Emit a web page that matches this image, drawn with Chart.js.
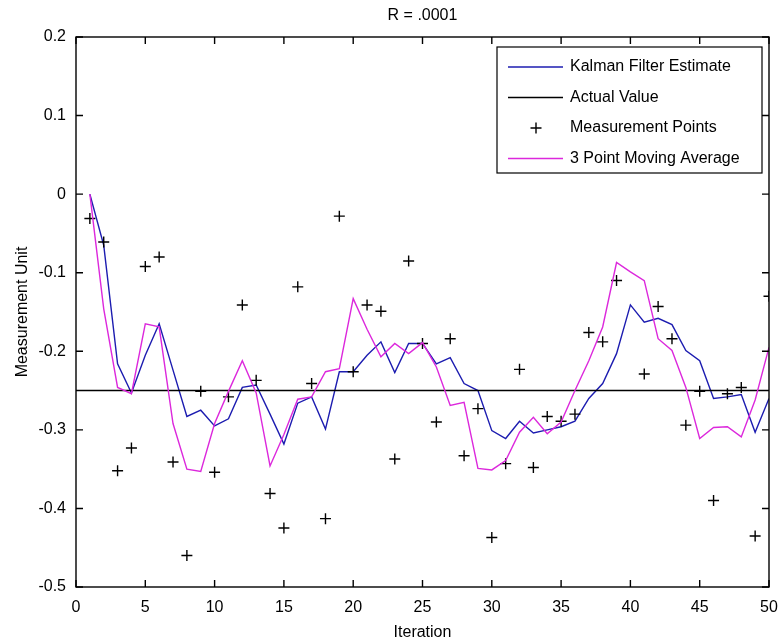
<!DOCTYPE html>
<html>
<head>
<meta charset="utf-8">
<title>R = .0001</title>
<script src="https://cdn.jsdelivr.net/npm/chart.js@4.4.0/dist/chart.umd.min.js"></script>
<style>
  html, body { margin: 0; padding: 0; background: #fff; }
  #wrap { width: 778px; height: 643px; }
</style>
</head>
<body>
<div id="wrap"><canvas id="kalmanChart"></canvas></div>
<script>
// Data
const iterations = [1, 2, 3, 4, 5, 6, 7, 8, 9, 10,
    11, 12, 13, 14, 15, 16, 17, 18, 19, 20,
    21, 22, 23, 24, 25, 26, 27, 28, 29, 30,
    31, 32, 33, 34, 35, 36, 37, 38, 39, 40,
    41, 42, 43, 44, 45, 46, 47, 48, 49, 50];

const measurements = [-0.031, -0.061, -0.352, -0.323, -0.092, -0.080, -0.341, -0.460, -0.251, -0.354,
    -0.258, -0.141, -0.237, -0.381, -0.425, -0.118, -0.241, -0.413, -0.028, -0.226,
    -0.141, -0.149, -0.337, -0.085, -0.190, -0.290, -0.184, -0.333, -0.273, -0.437,
    -0.343, -0.223, -0.348, -0.283, -0.289, -0.280, -0.176, -0.188, -0.110, 0.037,
    -0.229, -0.143, -0.184, -0.294, -0.251, -0.390, -0.254, -0.246, -0.435, -0.130];

const kalmanEstimate = [0, -0.065, -0.216, -0.253, -0.205, -0.165, -0.224, -0.283, -0.275, -0.295,
    -0.286, -0.246, -0.243, -0.280, -0.318, -0.266, -0.258, -0.299, -0.226, -0.226,
    -0.205, -0.188, -0.227, -0.190, -0.190, -0.216, -0.208, -0.241, -0.250, -0.301,
    -0.311, -0.289, -0.304, -0.300, -0.296, -0.289, -0.260, -0.241, -0.203, -0.141,
    -0.163, -0.158, -0.166, -0.199, -0.212, -0.260, -0.258, -0.255, -0.303, -0.260];

const movingAverage = [0, -0.146, -0.246, -0.254, -0.165, -0.169, -0.292, -0.350, -0.353, -0.292,
    -0.251, -0.212, -0.253, -0.346, -0.306, -0.261, -0.258, -0.226, -0.222, -0.133,
    -0.172, -0.207, -0.190, -0.203, -0.189, -0.220, -0.269, -0.265, -0.349, -0.351,
    -0.339, -0.303, -0.284, -0.305, -0.290, -0.250, -0.212, -0.169, -0.087, -0.099,
    -0.110, -0.184, -0.199, -0.246, -0.311, -0.297, -0.296, -0.309, -0.262, -0.195];

const actualValue = -0.25;

const xTicks = [0, 5, 10, 15, 20, 25, 30, 35, 40, 45, 50];
const yTicks = [-0.5, -0.4, -0.3, -0.2, -0.1, 0, 0.1, 0.2];

const toPoints = ys => iterations.map((x, i) => ({ x: x, y: ys[i] }));

Chart.defaults.font.family = '"Liberation Sans", Arial, Helvetica, sans-serif';
Chart.defaults.font.size = 16;
Chart.defaults.color = '#000';

// box around the plot with inward tick marks on all four sides
const axesBox = {
    id: 'axesBox',
    afterDatasetsDraw(chart) {
        const { ctx, chartArea: a, scales: { x, y } } = chart;
        const len = 7;
        ctx.save();
        ctx.strokeStyle = '#000';
        ctx.lineWidth = 1.4;
        ctx.strokeRect(a.left, a.top, a.right - a.left, a.bottom - a.top);
        ctx.beginPath();
        x.ticks.forEach(t => {
            const px = x.getPixelForValue(t.value);
            ctx.moveTo(px, a.bottom); ctx.lineTo(px, a.bottom - len);
            ctx.moveTo(px, a.top); ctx.lineTo(px, a.top + len);
        });
        y.ticks.forEach(t => {
            const py = y.getPixelForValue(t.value);
            ctx.moveTo(a.left, py); ctx.lineTo(a.left + len, py);
            ctx.moveTo(a.right, py); ctx.lineTo(a.right - len, py);
        });
        ctx.stroke();
        ctx.restore();
    }
};

// MATLAB style legend box in the upper right of the plot
const boxLegend = {
    id: 'boxLegend',
    afterDraw(chart) {
        const { ctx, chartArea: a } = chart;
        const w = 265, h = 126;
        const left = a.right - 7 - w;
        const top = a.top + 10;
        ctx.save();
        ctx.fillStyle = '#fff';
        ctx.fillRect(left, top, w, h);
        ctx.strokeStyle = '#000';
        ctx.lineWidth = 1.2;
        ctx.strokeRect(left, top, w, h);

        ctx.font = '16px "Liberation Sans", Arial, Helvetica, sans-serif';
        ctx.textBaseline = 'middle';
        ctx.textAlign = 'left';
        chart.data.datasets.forEach((ds, i) => {
            const yy = top + 20 + i * 30.5;
            if (ds.showLine === false) {
                const cx = left + 39, r = 5.5;
                ctx.strokeStyle = ds.borderColor;
                ctx.lineWidth = 1.4;
                ctx.beginPath();
                ctx.moveTo(cx - r, yy); ctx.lineTo(cx + r, yy);
                ctx.moveTo(cx, yy - r); ctx.lineTo(cx, yy + r);
                ctx.stroke();
            } else {
                ctx.strokeStyle = ds.borderColor;
                ctx.lineWidth = ds.borderWidth;
                ctx.beginPath();
                ctx.moveTo(left + 11, yy);
                ctx.lineTo(left + 66, yy);
                ctx.stroke();
            }
            ctx.fillStyle = '#000';
            ctx.fillText(ds.label, left + 73, yy);
        });
        ctx.restore();
    }
};

new Chart(document.getElementById('kalmanChart'), {
    type: 'line',
    data: {
        datasets: [{
            label: 'Kalman Filter Estimate',
            data: toPoints(kalmanEstimate),
            borderColor: '#1c1cb0',
            borderWidth: 1.4,
            pointRadius: 0,
            order: 4
        }, {
            label: 'Actual Value',
            data: [{ x: xTicks[0], y: actualValue }, { x: xTicks[xTicks.length - 1], y: actualValue }],
            borderColor: '#000',
            borderWidth: 1.4,
            pointRadius: 0,
            order: 3
        }, {
            label: 'Measurement Points',
            data: toPoints(measurements),
            showLine: false,
            pointStyle: 'cross',
            pointRadius: 5.5,
            pointBorderWidth: 1.4,
            borderColor: '#000',
            pointBorderColor: '#000',
            order: 2
        }, {
            label: '3 Point Moving Average',
            data: toPoints(movingAverage),
            borderColor: '#dc28dc',
            borderWidth: 1.4,
            pointRadius: 0,
            order: 1
        }]
    },
    options: {
        responsive: true,
        maintainAspectRatio: false,
        animation: false,
        events: [],
        layout: { padding: { left: 0, right: 9, top: 0, bottom: 0 } },
        plugins: {
            legend: { display: false },
            tooltip: { enabled: false },
            title: {
                display: true,
                text: 'R = .0001',
                fullSize: false,
                font: { size: 16, weight: 'normal' },
                padding: { top: 6, bottom: 11.8 }
            }
        },
        scales: {
            x: {
                type: 'linear',
                min: xTicks[0],
                max: xTicks[xTicks.length - 1],
                afterBuildTicks: s => { s.ticks = xTicks.map(v => ({ value: v })); },
                afterFit: s => { s.height = 56; s.paddingLeft = 0; s.paddingRight = 0; },
                grid: { display: false, drawTicks: false },
                border: { display: false },
                ticks: { padding: 11, maxRotation: 0, autoSkip: false },
                title: { display: true, text: 'Iteration', padding: { top: 0, bottom: 1 } }
            },
            y: {
                min: yTicks[0],
                max: yTicks[yTicks.length - 1],
                afterBuildTicks: s => { s.ticks = yTicks.map(v => ({ value: v })); },
                afterFit: s => { s.width = 76; },
                grid: { display: false, drawTicks: false },
                border: { display: false },
                ticks: {
                    padding: 10,
                    autoSkip: false,
                    callback: v => String(parseFloat(v.toFixed(1)))
                },
                title: { display: true, text: 'Measurement Unit', padding: { top: 13, bottom: 0 } }
            }
        }
    },
    plugins: [axesBox, boxLegend]
});
</script>
</body>
</html>
